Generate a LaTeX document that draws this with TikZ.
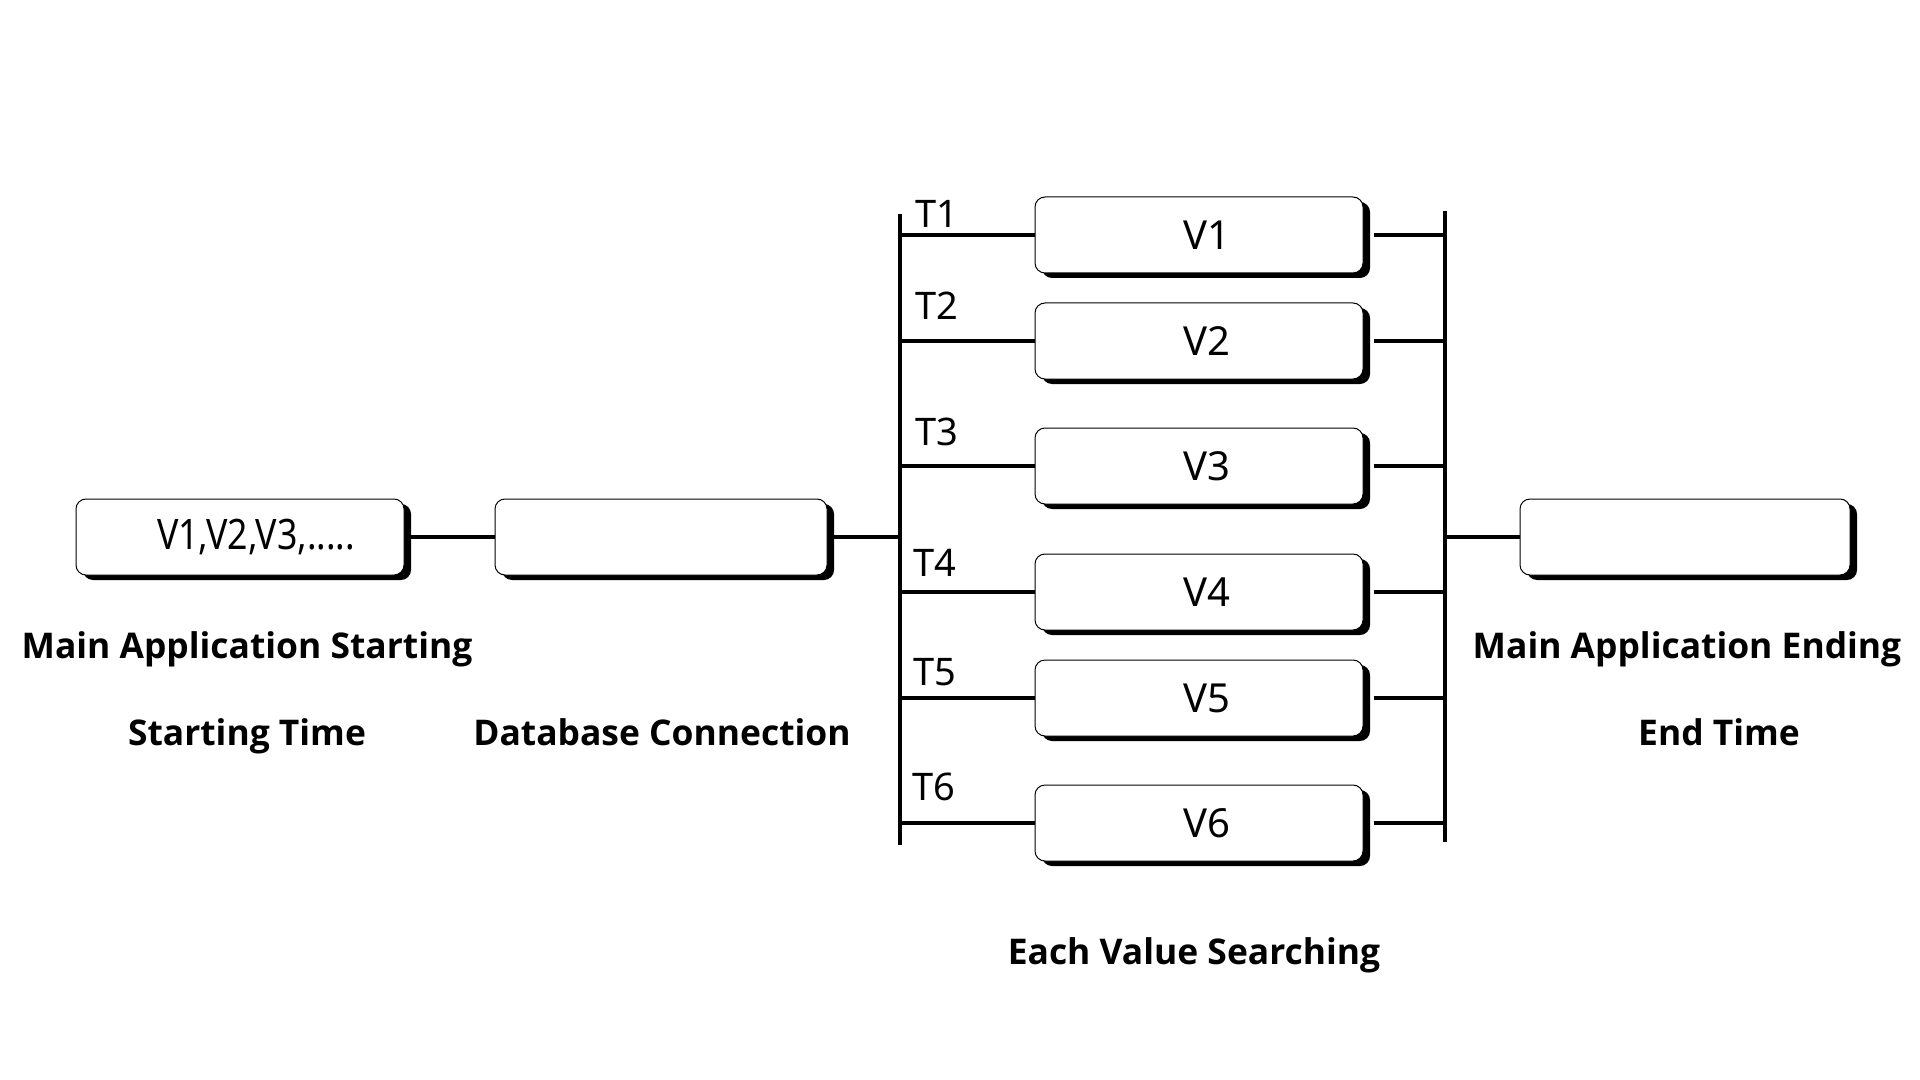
\documentclass[tikz,border=0pt]{standalone}
\usepackage{fontspec}
\setmainfont{Noto Sans}
\newfontfamily\condfont[FakeStretch=0.85]{Noto Sans}
\newfontfamily\lblfont{Open Sans}
\usetikzlibrary{shadows}
\begin{document}
\begin{tikzpicture}[x=0.5pt,y=-0.5pt,
 box/.style={draw=black, line width=0.5pt, fill=white, rounded corners=5pt,
   minimum width=164pt, minimum height=38pt, inner sep=0pt,
   drop shadow={shadow xshift=3.5pt, shadow yshift=-2.5pt, opacity=1, fill=black},
   font=\fontsize{20}{23}\selectfont},
 conn/.style={line width=1.8pt},
 thickconn/.style={line width=2.4pt},
 bus/.style={line width=2.2pt},
 lbl/.style={font=\lblfont\bfseries\fontsize{17.7}{21}\selectfont, text depth=0pt},
 tl/.style={font=\fontsize{19}{22}\selectfont, inner sep=0pt}]
\useasboundingbox (0,0) rectangle (1920,1080);
% left boxes
\node[box] (b1) at (240,537) {\hspace*{16pt}\fontsize{21}{24}\selectfont\condfont V1,V2,V3,.....};
\node[box, minimum width=166pt] (b2) at (661,537) {};
\node[box, minimum width=165pt] (e) at (1685,537) {};
% buses
\coordinate (lbt) at (900,214);
\coordinate (lbb) at (900,845);
\coordinate (rbt) at (1445,211);
\coordinate (rbb) at (1445,842);
\draw[bus] (lbt) -- (lbb);
\draw[bus] (rbt) -- (rbb);
% value boxes
\foreach \i/\y in {1/235,2/341,3/466,4/592,5/698,6/823}{
  \node[box] (v\i) at (1199,\y) {\hspace*{8pt}V\i};
  \draw[conn] (v\i.west -| lbt) -- (v\i.west);
  \draw[thickconn] (v\i.west -| lbt) -- ++(70,0);
  \draw[conn] ([xshift=5pt]v\i.east) -- (v\i.east -| rbt);
}
% T labels
\node[tl] (t1) at (937,214) {T1};
\node[tl] (t2) at (937,306) {T2};
\node[tl] (t3) at (937,432) {T3};
\node[tl] (t4) at (935,563) {T4};
\node[tl] (t5) at (935,672) {T5};
\node[tl] (t6) at (934,787) {T6};
% connectors
\draw[conn] ([xshift=3pt]b1.east) -- (b2.west);
\draw[conn] ([xshift=3pt]b2.east) -- (b2.east -| lbt);
\draw[conn] (e.west -| rbt) -- (e.west);
% labels
\node[lbl] (l1) at (247,645) {Main Application Starting};
\node[lbl] (l2) at (247,732) {Starting Time};
\node[lbl] (l3) at (662,732) {Database Connection};
\node[lbl] (l4) at (1194,951) {Each Value Searching};
\node[lbl] (l5) at (1687,645) {Main Application Ending};
\node[lbl] (l6) at (1719,732) {End Time};
\end{tikzpicture}
\end{document}
